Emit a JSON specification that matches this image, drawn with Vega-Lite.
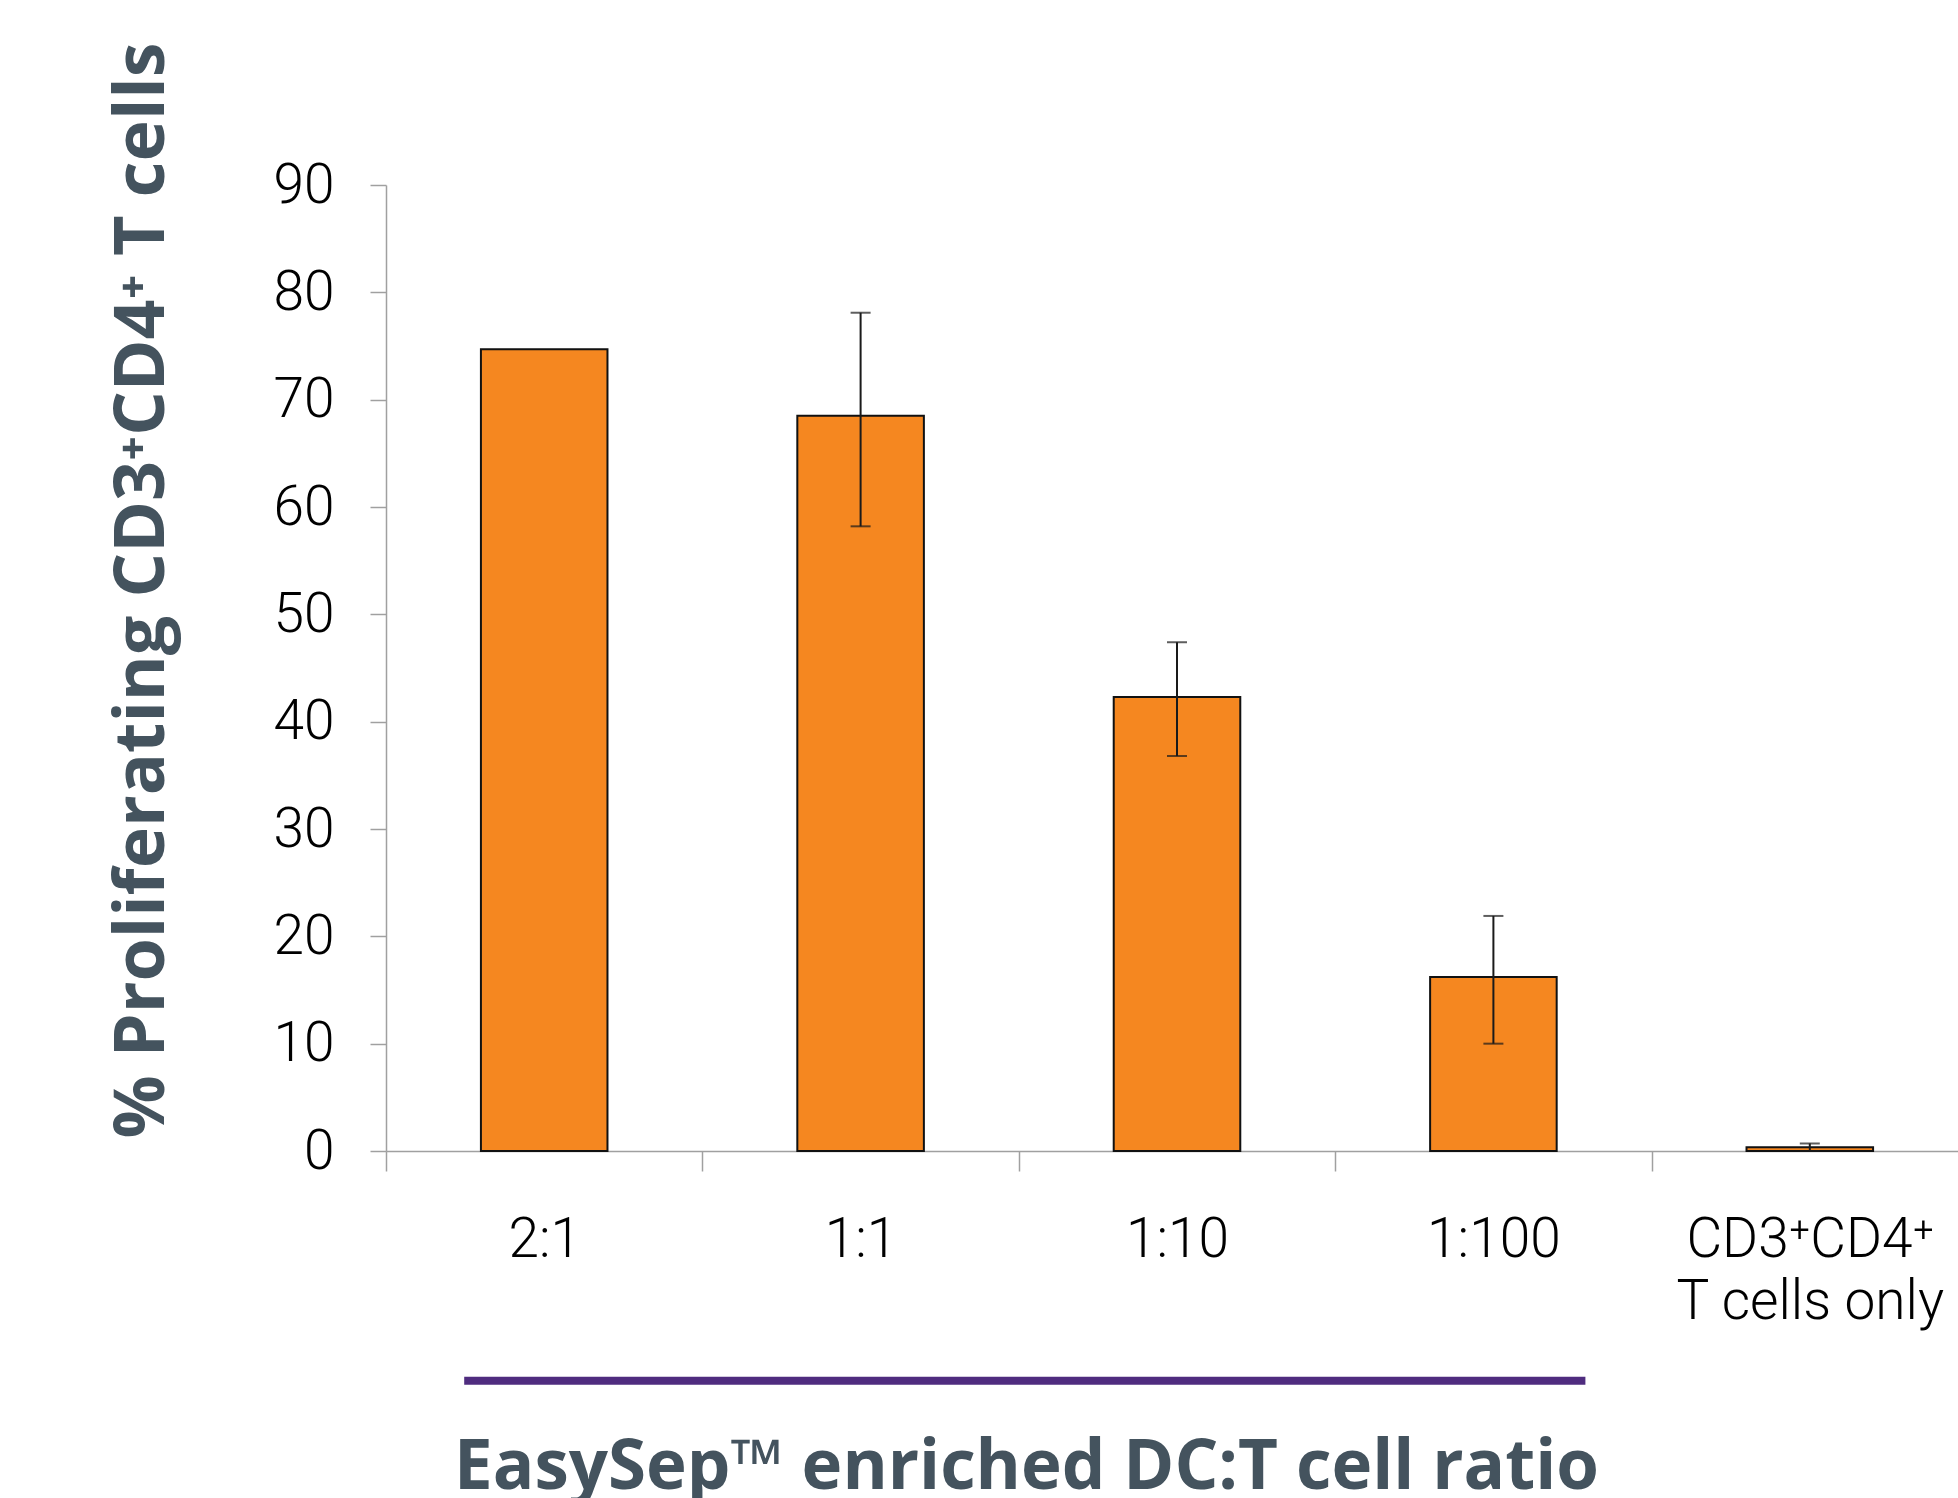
{
  "$schema": "https://vega.github.io/schema/vega-lite/v6.json",
  "autosize": "none",
  "width": 1572,
  "height": 966,
  "padding": {"left": 386, "top": 185, "right": 0, "bottom": 347},
  "background": "white",
  "config": {"view": {"stroke": null}},
  "data": {
    "values": [
      {"ratio": "2:1", "pct": 74.7, "low": null, "high": null},
      {"ratio": "1:1", "pct": 68.5, "low": 58.2, "high": 78.1},
      {"ratio": "1:10", "pct": 42.3, "low": 36.8, "high": 47.4},
      {"ratio": "1:100", "pct": 16.2, "low": 10.0, "high": 21.9},
      {"ratio": "CD3⁺CD4⁺\n T cells only", "pct": 0.35, "low": 0.0, "high": 0.7}
    ]
  },
  "layer": [
    {
      "mark": {"type": "bar", "fill": "#f58720", "stroke": "#111111", "strokeWidth": 2, "width": {"band": 0.4}},
      "encoding": {
        "x": {
          "field": "ratio",
          "type": "nominal",
          "sort": null,
          "scale": {
            "domain": ["2:1", "1:1", "1:10", "1:100", "CD3⁺CD4⁺\n T cells only"],
            "range": [0, 1582],
            "paddingInner": 0,
            "paddingOuter": 0
          },
          "axis": {
            "title": "EasySep™ enriched DC:T cell ratio",
            "titleFont": "Open Sans",
            "titleFontSize": 69,
            "titleFontWeight": "bold",
            "titleColor": "#44535e",
            "titleX": 640,
            "titleY": 337,
            "titleBaseline": "alphabetic",
            "titleAlign": "center",
            "labelAngle": 0,
            "labelFont": "Roboto",
            "labelFontWeight": 300,
            "labelFontSize": 55,
            "labelColor": "#000000",
            "labelPadding": 42,
            "labelLineHeight": 62,
            "labelLimit": 600,
            "labelOverlap": false,
            "labelExpr": "split(datum.label, '\\n')",
            "tickBand": "extent",
            "tickSize": 20,
            "tickColor": "#a0a0a0",
            "tickWidth": 1.5,
            "domainColor": "#a0a0a0",
            "domainWidth": 1.5,
            "grid": false
          }
        },
        "y": {
          "field": "pct",
          "type": "quantitative",
          "title": "% Proliferating CD3⁺CD4⁺ T cells",
          "scale": {"domain": [0, 90], "nice": false},
          "axis": {
            "titleFont": "Open Sans",
            "titleFontSize": 70,
            "titleFontWeight": "bold",
            "titleColor": "#44535e",
            "titleAngle": 270,
            "titleX": -223,
            "titleY": 405,
            "titleBaseline": "alphabetic",
            "titleAlign": "center",
            "values": [0, 10, 20, 30, 40, 50, 60, 70, 80, 90],
            "labelFont": "Roboto",
            "labelFontWeight": 300,
            "labelFontSize": 55,
            "labelColor": "#000000",
            "labelPadding": 36,
            "tickSize": 16,
            "tickColor": "#a0a0a0",
            "tickWidth": 1.5,
            "domainColor": "#a0a0a0",
            "domainWidth": 1.5,
            "grid": false
          }
        }
      }
    },
    {
      "transform": [{"filter": "datum.high != null"}],
      "mark": {
        "type": "errorbar",
        "ticks": {"size": 20, "thickness": 2, "color": "#1a1a1a"},
        "rule": {"strokeWidth": 2, "color": "#1a1a1a"}
      },
      "encoding": {
        "x": {"field": "ratio", "type": "nominal", "sort": null, "title": "EasySep™ enriched DC:T cell ratio"},
        "y": {"field": "low", "type": "quantitative", "title": "% Proliferating CD3⁺CD4⁺ T cells"},
        "y2": {"field": "high"}
      }
    },
    {
      "data": {"values": [{"from": "2:1", "to": "1:100", "level": -21.4}]},
      "mark": {"type": "rule", "color": "#4f2c7f", "strokeWidth": 8, "xOffset": -80, "x2Offset": 92},
      "encoding": {
        "x": {"field": "from", "type": "nominal", "title": "EasySep™ enriched DC:T cell ratio"},
        "x2": {"field": "to"},
        "y": {"field": "level", "type": "quantitative", "title": "% Proliferating CD3⁺CD4⁺ T cells"}
      }
    }
  ]
}
